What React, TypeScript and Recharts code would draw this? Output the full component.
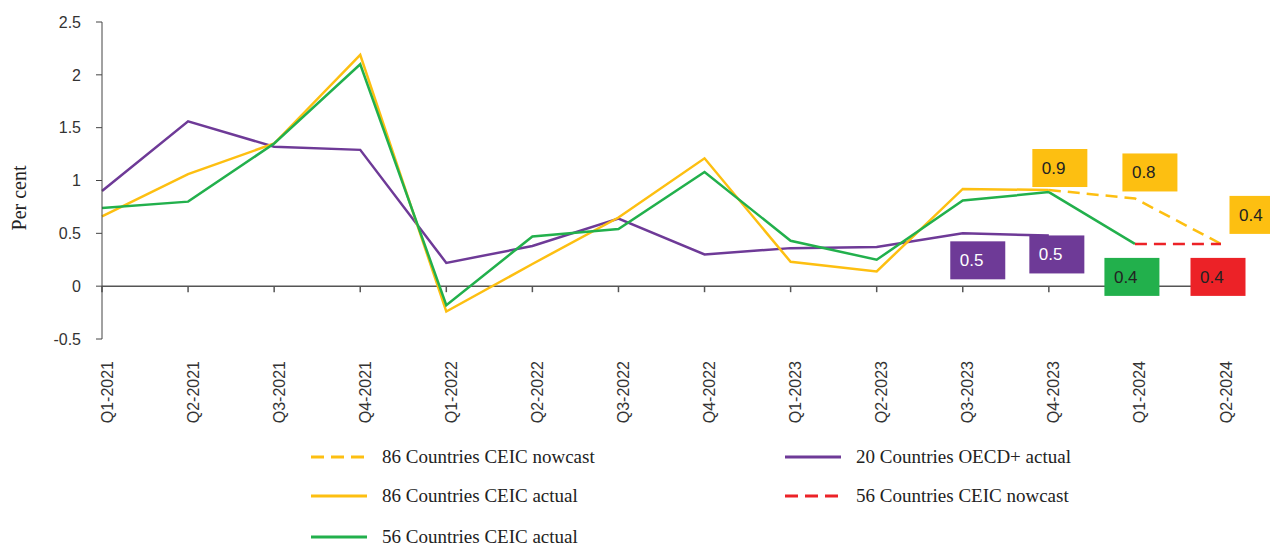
import { LineChart, Line, XAxis, YAxis, ReferenceLine, Legend, LabelList } from 'recharts';

const quarters = [
  'Q1-2021', 'Q2-2021', 'Q3-2021', 'Q4-2021',
  'Q1-2022', 'Q2-2022', 'Q3-2022', 'Q4-2022',
  'Q1-2023', 'Q2-2023', 'Q3-2023', 'Q4-2023',
  'Q1-2024', 'Q2-2024',
];

const oecd20Actual = [0.9, 1.56, 1.32, 1.29, 0.22, 0.38, 0.64, 0.3, 0.36, 0.37, 0.5, 0.48, null, null];
const ceic86Actual = [0.66, 1.06, 1.35, 2.19, -0.24, 0.21, 0.65, 1.21, 0.23, 0.14, 0.92, 0.91, null, null];
const ceic86Nowcast = [null, null, null, null, null, null, null, null, null, null, null, 0.91, 0.83, 0.4];
const ceic56Actual = [0.74, 0.8, 1.35, 2.1, -0.18, 0.47, 0.54, 1.08, 0.43, 0.25, 0.81, 0.89, 0.4, null];
const ceic56Nowcast = [null, null, null, null, null, null, null, null, null, null, null, null, 0.4, 0.4];

const yTicks = [-0.5, 0, 0.5, 1, 1.5, 2, 2.5];

const YELLOW = '#FDBF11';
const GREEN = '#22B04C';
const PURPLE = '#6E3A97';
const RED = '#EC2227';

const data = quarters.map((quarter, i) => ({
  quarter,
  oecd20Actual: oecd20Actual[i],
  ceic86Actual: ceic86Actual[i],
  ceic86Nowcast: ceic86Nowcast[i],
  ceic56Actual: ceic56Actual[i],
  ceic56Nowcast: ceic56Nowcast[i],
}));

// where each value box sits relative to its point (px)
const boxOffsets: Record<string, Record<number, [number, number]>> = {
  ceic86Nowcast: { 11: [11, -22], 12: [15, -26], 13: [36, -29] },
  oecd20Actual: { 10: [15, 27], 11: [8, 19] },
  ceic56Actual: { 12: [-3, 33] },
  ceic56Nowcast: { 13: [-3, 33] },
};

const legendItems = [
  { label: '86 Countries CEIC nowcast', color: YELLOW, dashed: true, col: 0, row: 0 },
  { label: '86 Countries CEIC actual', color: YELLOW, dashed: false, col: 0, row: 1 },
  { label: '56 Countries CEIC actual', color: GREEN, dashed: false, col: 0, row: 2 },
  { label: '20 Countries OECD+ actual', color: PURPLE, dashed: false, col: 1, row: 0 },
  { label: '56 Countries CEIC nowcast', color: RED, dashed: true, col: 1, row: 1 },
];

const makeBox = (key: string, fill: string, textColor: string) => (props: any) => {
  const { x, y, value, index } = props;
  const off = boxOffsets[key][index];
  if (!off || value == null) return null;
  const cx = x + off[0];
  const cy = y + off[1];
  return (
    <g>
      <rect x={cx - 27.5} y={cy - 19} width={55} height={38} fill={fill} />
      <text
        x={cx - 18}
        y={cy + 6}
        fill={textColor}
        fontSize={17}
        fontFamily="'Liberation Sans', Arial, sans-serif"
      >
        {Number(value).toFixed(1)}
      </text>
    </g>
  );
};

const QuarterTick = (props: any) => {
  const { x, y, payload } = props;
  return (
    <g transform={`translate(${x + 5},${y + 14})`}>
      <text
        transform="rotate(-90)"
        textAnchor="end"
        dominantBaseline="central"
        fill="#333"
        fontSize={16}
        fontFamily="'Liberation Sans', Arial, sans-serif"
      >
        {payload.value}
      </text>
    </g>
  );
};

const renderLegend = () => {
  const rowY = [19, 58, 99];
  const colX = [303, 777];
  return (
    <div style={{ position: 'relative', width: 1270, height: 110 }}>
      {legendItems.map((item) => (
        <div
          key={item.label}
          style={{
            position: 'absolute',
            left: colX[item.col],
            top: rowY[item.row] - 13,
            height: 26,
            display: 'flex',
            alignItems: 'center',
            whiteSpace: 'nowrap',
          }}
        >
          <svg width={56} height={6} style={{ display: 'block' }}>
            <line
              x1={0}
              y1={3}
              x2={56}
              y2={3}
              stroke={item.color}
              strokeWidth={3}
              strokeDasharray={item.dashed ? '13 7' : undefined}
            />
          </svg>
          <span
            style={{
              marginLeft: 15,
              fontFamily: "'Liberation Serif', 'Times New Roman', serif",
              fontSize: 19,
              color: '#222',
            }}
          >
            {item.label}
          </span>
        </div>
      ))}
    </div>
  );
};

export default function App() {
  return (
    <div style={{ width: 1270, height: 537 }}>
      <LineChart width={1270} height={537} data={data} margin={{ top: 14, right: 57, bottom: 116, left: 0 }}>
        <XAxis
          dataKey="quarter"
          interval={0}
          axisLine={false}
          tickLine={false}
          height={90}
          tick={<QuarterTick />}
        />
        <YAxis
          type="number"
          domain={[-0.5, 2.5]}
          ticks={yTicks}
          width={94}
          tickSize={6}
          tickMargin={15}
          stroke="#444"
          tick={{ fill: '#333', fontSize: 16, fontFamily: "'Liberation Sans', Arial, sans-serif" }}
          label={({ viewBox }: any) => (
            <text
              x={11}
              y={190}
              transform="rotate(-90, 11, 190)"
              textAnchor="middle"
              dominantBaseline="central"
              fill="#222"
              fontSize={20}
              fontFamily="'Liberation Serif', 'Times New Roman', serif"
            >
              Per cent
            </text>
          )}
        />
        <ReferenceLine y={0} stroke="#555" strokeWidth={1.5} />
        {quarters.map((q) => (
          <ReferenceLine
            key={q}
            segment={[{ x: q, y: 0 }, { x: q, y: -0.057 }]}
            stroke="#555"
            strokeWidth={1.5}
          />
        ))}
        <Legend layout="horizontal" verticalAlign="middle" wrapperStyle={{ left: 0, top: 430, width: 1270, height: 110 }} content={renderLegend} />
        <Line
          dataKey="oecd20Actual"
          stroke={PURPLE}
          strokeWidth={2.5}
          dot={false}
          isAnimationActive={false}
        >
          <LabelList dataKey="oecd20Actual" content={makeBox('oecd20Actual', PURPLE, '#fff')} />
        </Line>
        <Line
          dataKey="ceic86Actual"
          stroke={YELLOW}
          strokeWidth={2.5}
          dot={false}
          isAnimationActive={false}
        />
        <Line
          dataKey="ceic56Actual"
          stroke={GREEN}
          strokeWidth={2.5}
          dot={false}
          isAnimationActive={false}
        >
          <LabelList dataKey="ceic56Actual" content={makeBox('ceic56Actual', GREEN, '#222')} />
        </Line>
        <Line
          dataKey="ceic86Nowcast"
          stroke={YELLOW}
          strokeWidth={2.5}
          strokeDasharray="12 7"
          dot={false}
          isAnimationActive={false}
        >
          <LabelList dataKey="ceic86Nowcast" content={makeBox('ceic86Nowcast', YELLOW, '#222')} />
        </Line>
        <Line
          dataKey="ceic56Nowcast"
          stroke={RED}
          strokeWidth={2.5}
          strokeDasharray="12 7"
          dot={false}
          isAnimationActive={false}
        >
          <LabelList dataKey="ceic56Nowcast" content={makeBox('ceic56Nowcast', RED, '#222')} />
        </Line>
      </LineChart>
    </div>
  );
}
